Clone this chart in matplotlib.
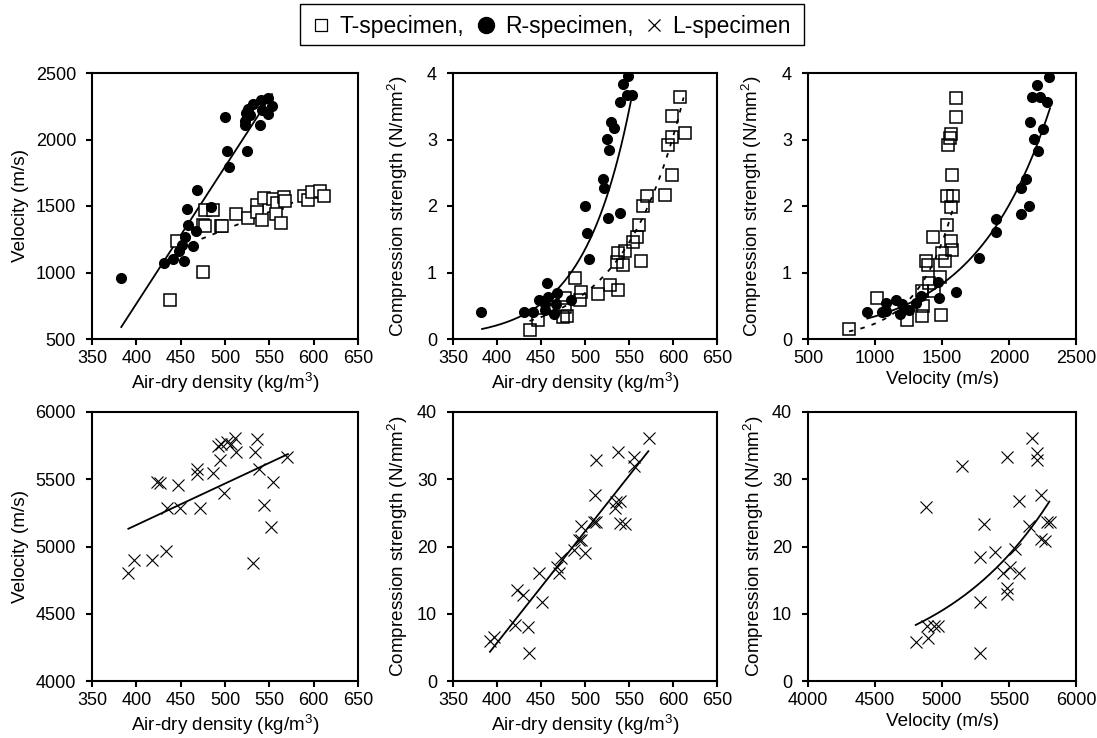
import numpy as np
import matplotlib
matplotlib.use("Agg")
import matplotlib.pyplot as plt
from matplotlib.lines import Line2D
from matplotlib.patches import Rectangle

plt.rcParams["font.family"] = ["Liberation Sans", "DejaVu Sans"]
plt.rcParams["mathtext.fontset"] = "custom"
plt.rcParams["mathtext.rm"] = "Liberation Sans"
plt.rcParams["mathtext.it"] = "Liberation Sans:italic"

# ---------------- T-specimen (open squares) ----------------
t_dens_v = [438, 475, 446, 475, 478, 495, 497, 477, 486, 512, 526, 536, 536, 542,
            544, 554, 559, 566, 568, 558, 563, 589, 594, 598, 607, 612]
t_vel = [796, 1006, 1237, 1355, 1350, 1347, 1352, 1473, 1468, 1442, 1407, 1510,
         1452, 1397, 1563, 1553, 1523, 1565, 1538, 1440, 1372, 1573, 1543, 1605,
         1610, 1578]

t_dens_s = [438, 447, 475, 480, 477, 477, 489, 496, 494, 515, 528, 538, 538, 536,
            543, 545, 555, 559, 561, 566, 570, 564, 591, 599, 594, 599, 599, 614, 608]
t_str_d = [0.13, 0.28, 0.33, 0.35, 0.61, 0.48, 0.92, 0.71, 0.59, 0.67, 0.81, 0.73,
           1.29, 1.16, 1.11, 1.33, 1.46, 1.54, 1.72, 2.00, 2.15, 1.17, 2.16, 2.47,
           2.92, 3.04, 3.36, 3.10, 3.64]

t_vel_s = [806, 1016, 1240, 1354, 1359, 1354, 1379, 1397, 1434, 1404, 1444, 1491,
           1484, 1501, 1521, 1534, 1567, 1577, 1539, 1579, 1570, 1576, 1544, 1566,
           1556, 1603, 1608]
t_str_v = [0.15, 0.62, 0.29, 0.34, 0.50, 0.72, 1.18, 1.11, 1.54, 0.84, 0.72, 0.36,
           0.93, 1.29, 1.18, 1.72, 1.48, 1.34, 2.15, 2.15, 1.98, 2.47, 2.91, 3.08,
           3.03, 3.34, 3.62]

# ---------------- R-specimen (filled circles) ----------------
r_dens_v = [383, 431, 441, 454, 448, 452, 455, 464, 467, 458, 457, 468, 484, 504,
            502, 500, 525, 522, 522, 539, 524, 526, 528, 532, 541, 549, 542, 548, 553]
r_vel = [955, 1070, 1100, 1090, 1165, 1209, 1267, 1197, 1314, 1354, 1480, 1623,
         1495, 1791, 1916, 2167, 1916, 2142, 2107, 2112, 2199, 2231, 2181, 2264,
         2299, 2312, 2224, 2192, 2249]

r_dens_s = [382, 431, 441, 448, 454, 455, 457, 458, 465, 467, 468, 484, 500, 502,
            504, 521, 522, 526, 525, 527, 529, 533, 540, 540, 543, 549, 548, 553]
r_str_d = [0.40, 0.41, 0.41, 0.58, 0.52, 0.43, 0.84, 0.63, 0.37, 0.52, 0.69, 0.59,
           2.00, 1.60, 1.21, 2.41, 2.27, 1.82, 3.01, 2.84, 3.27, 3.17, 1.89, 3.57,
           3.83, 3.95, 3.67, 3.67]

r_vel_s = [941, 1055, 1085, 1080, 1155, 1190, 1200, 1255, 1305, 1347, 1471, 1479,
           1608, 1778, 1902, 1904, 2092, 2089, 2126, 2151, 2156, 2189, 2214, 2251,
           2169, 2209, 2229, 2286, 2301]
r_str_v = [0.41, 0.41, 0.42, 0.54, 0.58, 0.38, 0.52, 0.43, 0.54, 0.64, 0.86, 0.61,
           0.70, 1.22, 1.81, 1.61, 1.88, 2.27, 2.40, 2.00, 3.27, 3.01, 2.83, 3.16,
           3.64, 3.82, 3.64, 3.56, 3.94]

# ---------------- L-specimen (crosses) ----------------
l_dens_v = [391, 397, 418, 434, 423, 427, 447, 435, 449, 468, 468, 472, 486, 494,
            492, 496, 502, 507, 511, 512, 499, 536, 534, 538, 532, 554, 544, 552, 570]
l_vel = [4800, 4896, 4896, 4968, 5479, 5474, 5459, 5283, 5283, 5538, 5578, 5283,
         5548, 5640, 5744, 5762, 5774, 5762, 5806, 5702, 5397, 5797, 5702, 5576,
         4881, 5479, 5310, 5144, 5668]

l_dens_s = [392, 397, 420, 423, 429, 435, 436, 448, 451, 468, 471, 473, 487, 493,
            496, 495, 500, 510, 513, 511, 513, 534, 535, 540, 540, 546, 537, 556, 556, 573]
l_str_d = [5.9, 6.5, 8.3, 13.6, 12.8, 8.1, 4.2, 16.0, 11.8, 16.9, 16.0, 18.3, 19.5,
           21.0, 20.9, 23.1, 19.0, 23.7, 23.7, 27.7, 32.8, 25.7, 26.6, 26.7, 23.5,
           23.3, 34.1, 33.3, 31.9, 36.2]

l_vel_s = [4804, 4896, 4888, 4938, 4970, 4883, 5149, 5280, 5285, 5280, 5315, 5399,
           5454, 5483, 5483, 5508, 5545, 5578, 5578, 5483, 5648, 5670, 5707, 5707,
           5737, 5739, 5769, 5782, 5806]
l_str_v = [5.8, 6.4, 8.2, 8.2, 8.2, 25.8, 31.9, 4.1, 11.8, 18.4, 23.3, 19.2, 16.0,
           13.9, 12.9, 17.0, 19.7, 16.0, 26.7, 33.3, 23.1, 36.2, 33.9, 32.8, 27.7,
           21.1, 20.8, 23.6, 23.6]

# ---------------- regression curves ----------------
# linear: y = slope * x + intercept, over [x0, x1]
fit_r_vel = (10.3, -3355.0, 383, 553)
fit_t_vel = (2.65, -2.0, 449, 612)
fit_l_vel = (3.083, 3926.5, 391, 571)
fit_l_str_d = (0.1657, -60.61, 392, 572)
# exponential: y = a * exp(b * x), over [x0, x1]
fit_r_str_d = (1.148e-4, 0.01874, 383, 552)
fit_t_str_d = (4.179e-4, 0.01482, 437, 612)
fit_r_str_v = (0.05763, 0.001777, 943, 2306)
fit_t_str_v = (0.005929, 0.003668, 806, 1580)
fit_l_str_v = (0.03063, 0.001167, 4804, 5801)

dens_ticks = [350, 400, 450, 500, 550, 600, 650]
vel_ticks_top = [500, 1000, 1500, 2000, 2500]
vel_ticks_bot = [4000, 4500, 5000, 5500, 6000]
str_ticks_top = [0, 1, 2, 3, 4]
str_ticks_bot = [0, 10, 20, 30, 40]

DENS_LABEL = r"Air-dry density (kg/m$^3$)"
VEL_LABEL = "Velocity (m/s)"
STR_LABEL = r"Compression strength (N/mm$^2$)"
KEY_LABELS = ["T-specimen,", "R-specimen,", "L-specimen"]

W, H = 1097, 738
fig = plt.figure(figsize=(W / 100, H / 100), dpi=100)

TICK_FS = 13
LABEL_FS = 13.6


def make_ax(x0, x1, y0, y1):
    ax = fig.add_axes([x0 / W, 1 - y1 / H, (x1 - x0) / W, (y1 - y0) / H])
    for s in ax.spines.values():
        s.set_linewidth(1.5)
    ax.tick_params(direction="out", length=4.5, width=1.5, labelsize=TICK_FS)
    ax.tick_params(axis="x", pad=3.5)
    ax.tick_params(axis="y", pad=7)
    return ax


def labels(ax, xl, yl, ylab_px, x0, x1):
    ax.set_xlabel(xl, fontsize=LABEL_FS, labelpad=3)
    ax.set_ylabel(yl, fontsize=LABEL_FS)
    ax.yaxis.set_label_coords((ylab_px - x0) / (x1 - x0), 0.5)


def lin(ax, fit, style):
    k, c, x0, x1 = fit
    xs = np.linspace(x0, x1, 50)
    ax.plot(xs, k * xs + c, color="black", **style)


def expo(ax, fit, style):
    a, b, x0, x1 = fit
    xs = np.linspace(x0, x1, 200)
    ax.plot(xs, a * np.exp(b * xs), color="black", **style)


solid = dict(lw=1.3, ls="-")
dashed = dict(lw=1.3, ls=(0, (2.5, 4)))

sq = dict(marker="s", ls="none", ms=9, mfc="white", mec="black", mew=1.1)
sq_hollow = dict(marker="s", ls="none", ms=9, mfc="none", mec="black", mew=1.1)
dot = dict(marker="o", ls="none", ms=7, mfc="black", mec="black")
cross = dict(marker="x", ls="none", ms=8, mec="black", mew=0.8)

row1 = (73, 339)
row2 = (412, 681)
cols = [(92, 358), (453, 717), (808, 1076)]

# Panel (1,1): velocity vs density
ax = make_ax(cols[0][0], cols[0][1], *row1)
ax.plot(t_dens_v, t_vel, zorder=3, **sq)
ax.plot(r_dens_v, r_vel, zorder=4, **dot)
lin(ax, fit_r_vel, solid)
lin(ax, fit_t_vel, dashed)
ax.set_xlim(350, 650)
ax.set_ylim(500, 2500)
ax.set_xticks(dens_ticks)
ax.set_yticks(vel_ticks_top)
labels(ax, DENS_LABEL, VEL_LABEL, 29, *cols[0])

# Panel (1,2): strength vs density
ax = make_ax(cols[1][0], cols[1][1], *row1)
ax.plot(t_dens_s, t_str_d, zorder=3, **sq_hollow)
ax.plot(r_dens_s, r_str_d, zorder=4, **dot)
expo(ax, fit_r_str_d, solid)
expo(ax, fit_t_str_d, dashed)
ax.set_xlim(350, 650)
ax.set_ylim(0, 4)
ax.set_xticks(dens_ticks)
ax.set_yticks(str_ticks_top)
labels(ax, DENS_LABEL, STR_LABEL, 410, *cols[1])

# Panel (1,3): strength vs velocity
ax = make_ax(cols[2][0], cols[2][1], *row1)
ax.plot(t_vel_s, t_str_v, zorder=3, **sq_hollow)
ax.plot(r_vel_s, r_str_v, zorder=4, **dot)
expo(ax, fit_r_str_v, solid)
expo(ax, fit_t_str_v, dashed)
ax.set_xlim(500, 2500)
ax.set_ylim(0, 4)
ax.set_xticks(vel_ticks_top)
ax.set_yticks(str_ticks_top)
labels(ax, VEL_LABEL, STR_LABEL, 764, *cols[2])

# Panel (2,1): velocity vs density, L-specimen
ax = make_ax(cols[0][0], cols[0][1], *row2)
ax.plot(l_dens_v, l_vel, **cross)
lin(ax, fit_l_vel, solid)
ax.set_xlim(350, 650)
ax.set_ylim(4000, 6000)
ax.set_xticks(dens_ticks)
ax.set_yticks(vel_ticks_bot)
labels(ax, DENS_LABEL, VEL_LABEL, 29, *cols[0])

# Panel (2,2): strength vs density, L-specimen
ax = make_ax(cols[1][0], cols[1][1], *row2)
ax.plot(l_dens_s, l_str_d, **cross)
lin(ax, fit_l_str_d, solid)
ax.set_xlim(350, 650)
ax.set_ylim(0, 40)
ax.set_xticks(dens_ticks)
ax.set_yticks(str_ticks_bot)
labels(ax, DENS_LABEL, STR_LABEL, 410, *cols[1])

# Panel (2,3): strength vs velocity, L-specimen
ax = make_ax(cols[2][0], cols[2][1], *row2)
ax.plot(l_vel_s, l_str_v, **cross)
expo(ax, fit_l_str_v, solid)
ax.set_xlim(4000, 6000)
ax.set_ylim(0, 40)
ax.set_xticks(vel_ticks_bot)
ax.set_yticks(str_ticks_bot)
labels(ax, VEL_LABEL, STR_LABEL, 766, *cols[2])

# Shared key across the top: framed box with marker + label pairs
fig.add_artist(Rectangle((300 / W, 1 - 45 / H), 504 / W, 41 / H,
                         transform=fig.transFigure, fc="white", ec="black", lw=1.0))
key_y = 1 - 24.5 / H
key_markers = [
    (321, dict(marker="s", ms=9, mfc="none", mec="black", mew=0.9)),
    (486, dict(marker="o", ms=11.5, mfc="black", mec="black")),
    (654, dict(marker="x", ms=8.5, mec="black", mew=0.9)),
]
key_text_x = [340, 505, 672]
for (mx, mstyle), tx, lab in zip(key_markers, key_text_x, KEY_LABELS):
    fig.add_artist(Line2D([mx / W], [key_y], transform=fig.transFigure,
                          ls="none", **mstyle))
    fig.text(tx / W, key_y, lab, ha="left", va="center_baseline", fontsize=16.5)

fig.savefig("out.png", dpi=100)
